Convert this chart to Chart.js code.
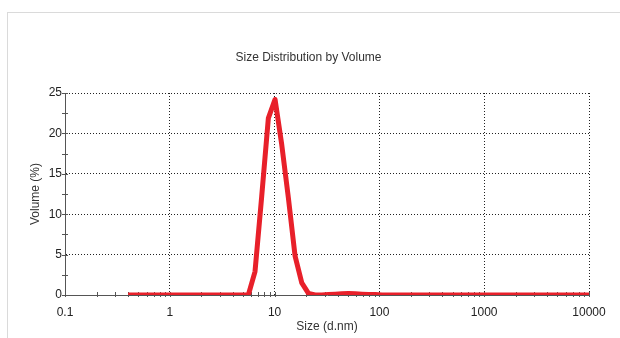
<!DOCTYPE html>
<html>
<head>
<meta charset="utf-8">
<script src="https://cdn.jsdelivr.net/npm/chart.js@4"></script>
<style>
  html, body { margin: 0; padding: 0; background: #fff; }
  #wrap { position: relative; width: 620px; height: 338px; overflow: hidden; }
  #frame { position: absolute; left: 7px; top: 12px; width: 700px; height: 400px; border: 1px solid #dadada; }
  #chart { position: absolute; left: 0; top: 0; }
</style>
</head>
<body>
<div id="wrap">
  <div id="frame"></div>
  <canvas id="chart" width="620" height="338"></canvas>
</div>
<script>
// size bins (d.nm) and volume (%)
const sizes = [0.4, 0.4632, 0.5365, 0.6213, 0.7195, 0.8332, 0.9649, 1.117, 1.294, 1.499,
  1.736, 2.01, 2.328, 2.696, 3.122, 3.615, 4.187, 4.849, 5.615, 6.503,
  7.531, 8.721, 10.1, 11.7, 13.54, 15.69, 18.17, 21.04, 24.36, 28.21,
  32.67, 37.84, 43.82, 50.75, 58.77, 68.06, 78.82, 91.28, 105.7, 122.4,
  141.8, 164.2, 190.1, 220.2, 255, 295.3, 342, 396.1, 458.7, 531.2,
  615.1, 712.4, 825, 955.4, 1106, 1281, 1484, 1718, 1990, 2305,
  2669, 3091, 3580, 4145, 4801, 5560, 6439, 7456, 8635, 10000];
const volumes = [0, 0, 0, 0, 0, 0, 0, 0, 0, 0,
  0, 0, 0, 0, 0, 0, 0, 0, 0, 2.9,
  12.2, 21.9, 24.2, 18.6, 12.0, 4.8, 1.5, 0.2, 0, 0,
  0.05, 0.1, 0.15, 0.2, 0.15, 0.1, 0.05, 0.05, 0, 0,
  0, 0, 0, 0, 0, 0, 0, 0, 0, 0,
  0, 0, 0, 0, 0, 0, 0, 0, 0, 0,
  0, 0, 0, 0, 0, 0, 0, 0, 0, 0];

const xDecades = [0.1, 1, 10, 100, 1000, 10000];
const minorSteps = [2, 3, 4, 5, 6, 7, 8, 9];
const yLabels = [0, 5, 10, 15, 20, 25];

const FONT = "'Liberation Sans', Arial, sans-serif";
const textColor = '#333';
const axisColor = '#555';
const lineRed = '#e8202a';

const xTickValues = [];
xDecades.forEach((d, i) => {
  xTickValues.push(d);
  if (i < xDecades.length - 1) minorSteps.forEach(m => xTickValues.push(d * m));
});

// small tick marks crossing the axes
const axisTicks = {
  id: 'axisTicks',
  beforeDatasetsDraw(chart) {
    const { ctx, chartArea: a, scales: { x, y } } = chart;
    ctx.save();
    ctx.strokeStyle = axisColor;
    ctx.lineWidth = 1;
    ctx.beginPath();
    x.ticks.forEach(t => {
      const px = Math.round(x.getPixelForValue(t.value)) + 0.5;
      ctx.moveTo(px, a.bottom - 3);
      ctx.lineTo(px, a.bottom + 2);
    });
    y.ticks.forEach(t => {
      const py = Math.round(y.getPixelForValue(t.value)) + 0.5;
      ctx.moveTo(a.left - 3, py);
      ctx.lineTo(a.left + 3, py);
    });
    ctx.stroke();
    ctx.restore();
  }
};

const ctx = document.getElementById('chart').getContext('2d');
new Chart(ctx, {
  type: 'line',
  data: {
    datasets: [{
      data: sizes.map((s, i) => ({ x: s, y: volumes[i] })),
      borderColor: lineRed,
      borderWidth: 5,
      pointRadius: 0,
      tension: 0,
      borderJoinStyle: 'round',
      fill: false,
    }],
  },
  options: {
    responsive: false,
    devicePixelRatio: 1,
    animation: false,
    layout: { padding: { left: 28, right: 31, top: 0, bottom: 4 } },
    plugins: {
      legend: { display: false },
      tooltip: { enabled: false },
      title: {
        display: true,
        text: 'Size Distribution by Volume',
        color: textColor,
        font: { family: FONT, size: 12, weight: 'normal' },
        padding: { top: 50, bottom: 28.6 },
      },
    },
    scales: {
      x: {
        type: 'logarithmic',
        min: 0.1,
        max: 10000,
        afterBuildTicks: s => { s.ticks = xTickValues.map(v => ({ value: v })); },
        afterFit: s => { s.height = 39; },
        ticks: {
          autoSkip: false,
          maxRotation: 0,
          padding: 10,
          color: '#222',
          font: { family: FONT, size: 12 },
          callback: v => (xDecades.includes(v) ? String(v) : ''),
        },
        grid: {
          drawTicks: false,
          lineWidth: 1,
          color: c => (c.tick && xDecades.includes(c.tick.value) && c.tick.value > 0.1 ? '#222' : 'rgba(0,0,0,0)'),
        },
        border: { display: true, color: axisColor, width: 1, dash: [1, 2] },
        title: {
          display: true,
          text: 'Size (d.nm)',
          color: textColor,
          padding: 0,
          font: { family: FONT, size: 12 },
        },
      },
      y: {
        min: 0,
        max: 25,
        afterFit: s => { s.width = 37; },
        ticks: {
          stepSize: 2.5,
          padding: 3,
          color: '#222',
          font: { family: FONT, size: 12 },
          callback: v => (yLabels.includes(v) ? String(v) : ''),
        },
        grid: {
          drawTicks: false,
          lineWidth: 1,
          color: c => (c.tick && c.tick.value > 0 && yLabels.includes(c.tick.value) ? '#222' : 'rgba(0,0,0,0)'),
        },
        border: { display: true, color: axisColor, width: 1, dash: [1, 2] },
        title: {
          display: true,
          text: 'Volume (%)',
          color: textColor,
          padding: 0,
          font: { family: FONT, size: 12 },
        },
      },
    },
  },
  plugins: [axisTicks],
});
</script>
</body>
</html>
